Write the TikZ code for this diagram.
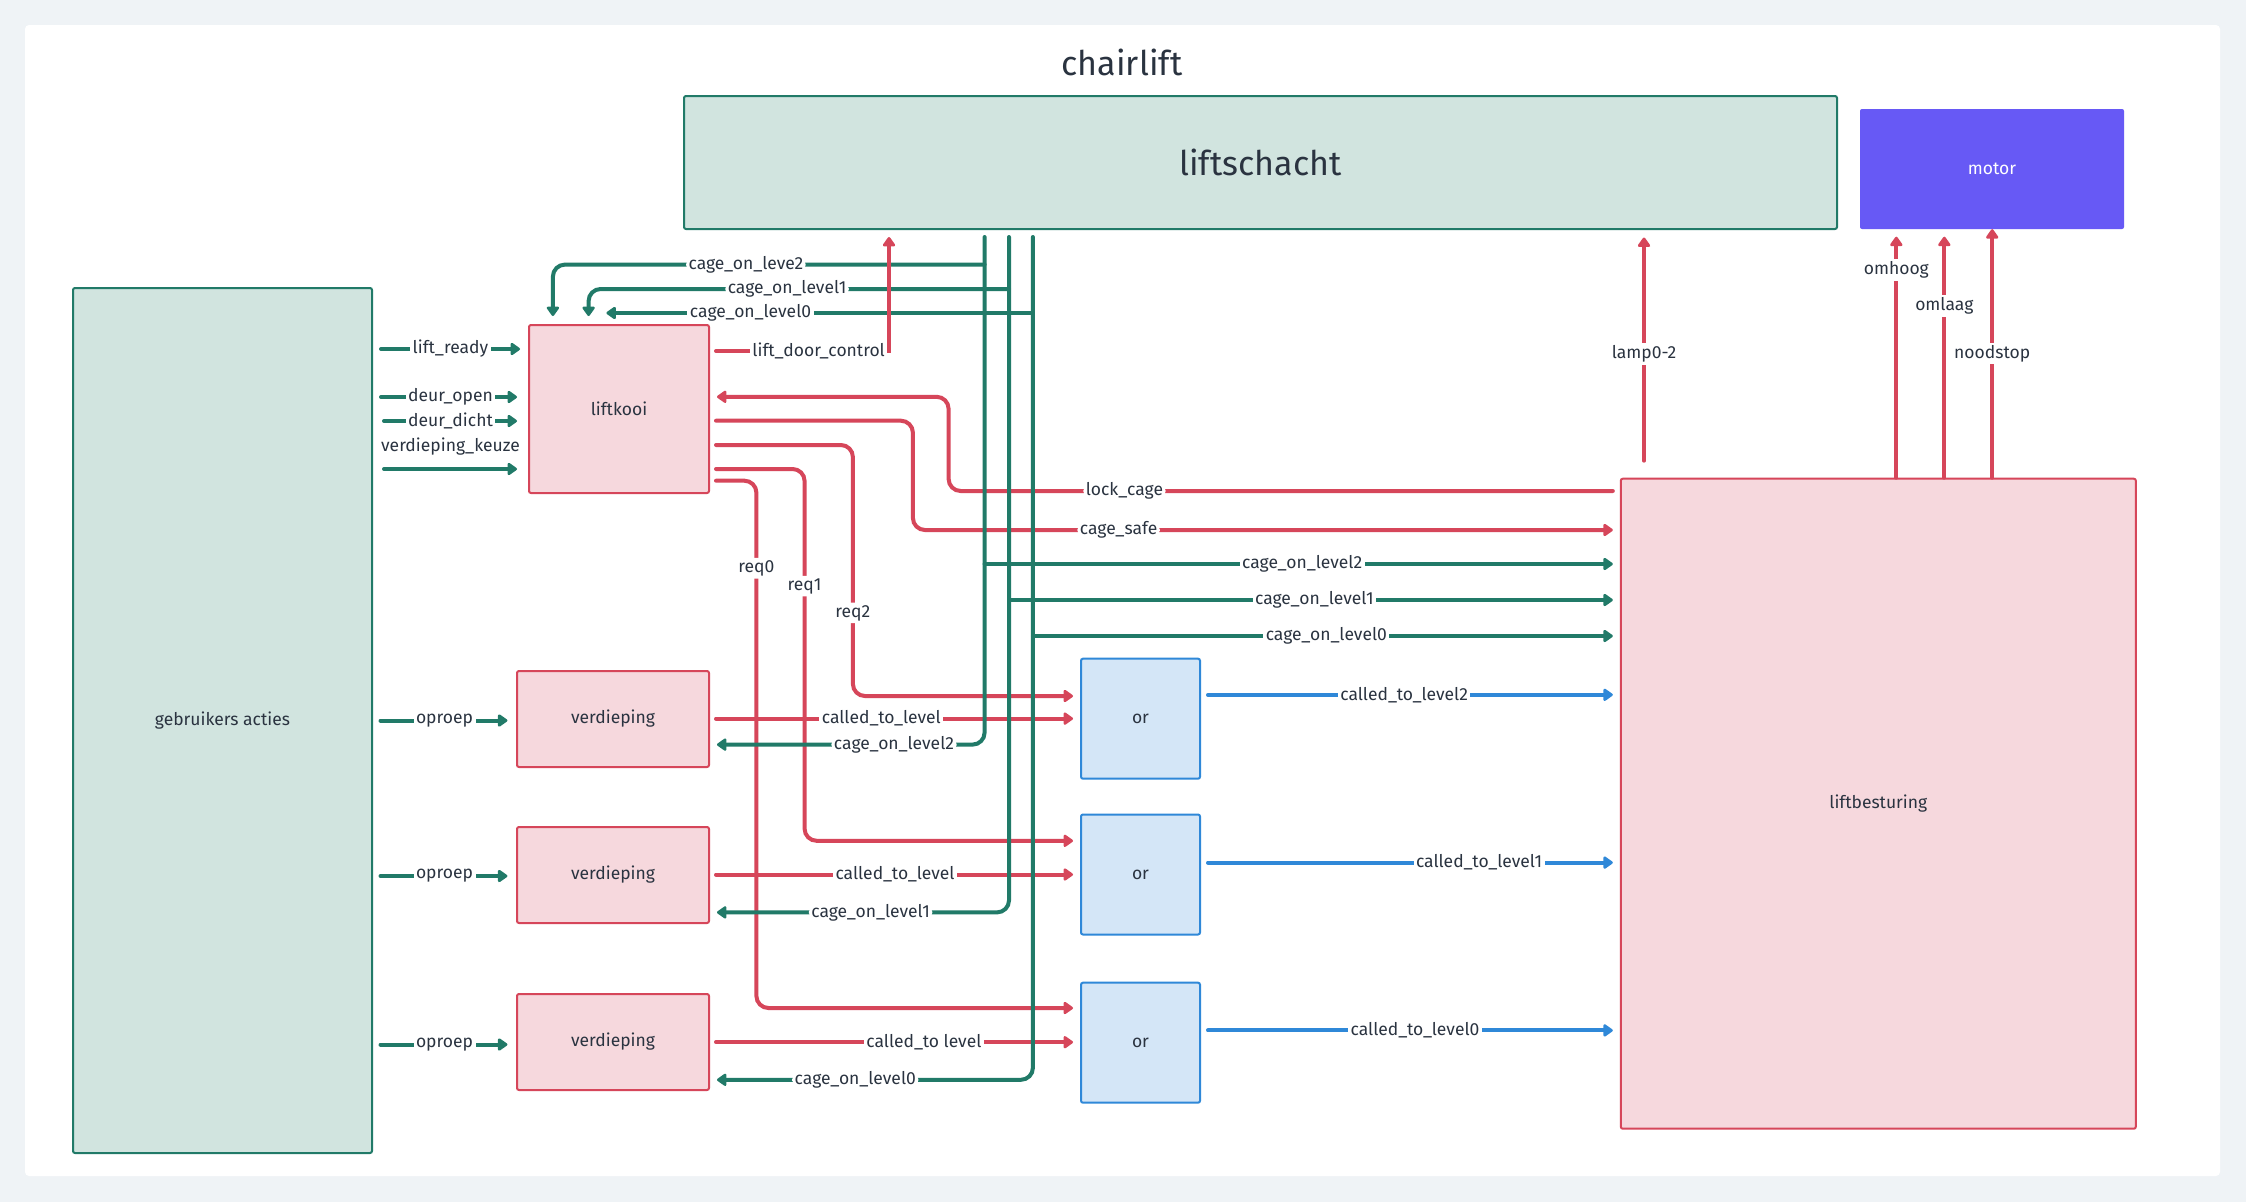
\documentclass[tikz,border=0pt]{standalone}
\usepackage{fontspec}
\setmainfont{Fira Sans}
\usepackage{xcolor}
\usetikzlibrary{arrows.meta, positioning, calc}
\definecolor{pagebg}{HTML}{EFF3F6}
\definecolor{gr}{HTML}{217A68}
\definecolor{rd}{HTML}{D6465A}
\definecolor{bl}{HTML}{2F88D8}
\definecolor{txt}{HTML}{2A3340}
\definecolor{grfill}{HTML}{D1E4DF}
\definecolor{rdfill}{HTML}{F6D8DD}
\definecolor{blfill}{HTML}{D4E6F7}
\definecolor{motorcol}{HTML}{6759F5}
\tikzstyle{shaft} = [rectangle, rounded corners=2pt, draw=gr, line width=2pt, fill=grfill, text=txt]
\tikzstyle{block} = [rectangle, rounded corners=2pt, draw=rd, line width=2pt, fill=rdfill, text=txt, font=\fontsize{17.5}{21}\selectfont]
\tikzstyle{gate} = [rectangle, rounded corners=2pt, draw=bl, line width=2pt, fill=blfill, text=txt, font=\fontsize{17.5}{21}\selectfont]
\tikzstyle{motorbox} = [rectangle, rounded corners=2pt, fill=motorcol, text=white, font=\fontsize{17.5}{21}\selectfont]
\tikzstyle{lbl} = [fill=white, inner sep=2.5pt, text=txt, font=\fontsize{17.5}{21}\selectfont]
\tikzstyle{wire} = [line width=4pt, line cap=round]
\tikzstyle{garrow} = [wire, draw=gr, -{Triangle[length=10.5pt,width=14pt,round]}]
\tikzstyle{rarrow} = [wire, draw=rd, -{Triangle[length=10.5pt,width=14pt,round]}]
\tikzstyle{barrow} = [wire, draw=bl, -{Triangle[length=10.5pt,width=14pt,round]}]

\begin{document}
\begin{tikzpicture}[x=1pt, y=-1pt]
    \useasboundingbox (0,0) rectangle (2246,1202);
    \fill[pagebg] (0,0) rectangle (2246,1202);
    \fill[white, rounded corners=4pt] (25,25) rectangle (2220,1176);

    \node (title) [text=txt, font=\fontsize{34}{40}\selectfont] at (1122,62) {chairlift};
    \node (schacht) [shaft, minimum width=1153pt, minimum height=133pt, font=\fontsize{34}{40}\selectfont] at (1260.5,162.5) {liftschacht};
    \node (motor) [motorbox, minimum width=264pt, minimum height=120pt] at (1992,169) {motor};
    \node (gebr) [shaft, minimum width=299pt, minimum height=865pt, font=\fontsize{17.5}{21}\selectfont] at (222.5,720.5) {gebruikers acties};
    \node (lk) [block, minimum width=180pt, minimum height=168pt] at (619,409) {liftkooi};
    \node (vd2) [block, minimum width=192pt, minimum height=96pt] at (613,719) {verdieping};
    \node (vd1) [block, minimum width=192pt, minimum height=96pt] at (613,875) {verdieping};
    \node (vd0) [block, minimum width=192pt, minimum height=96pt] at (613,1042) {verdieping};
    \node (or2) [gate, minimum width=119pt, minimum height=120pt] at (1140.5,718.7) {or};
    \node (or1) [gate, minimum width=119pt, minimum height=120pt] at (1140.5,874.5) {or};
    \node (or0) [gate, minimum width=119pt, minimum height=120pt] at (1140.5,1042.7) {or};
    \node (best) [block, minimum width=515pt, minimum height=650pt] at (1878.3,803.7) {liftbesturing};

    \coordinate (j2) at (984.6,264.6);
    \coordinate (j1) at (1009,289);
    \coordinate (j0) at (1032.9,313);
    \coordinate (j0end) at (606.4,313);

    % user inputs
    \draw [garrow, shorten <=8pt, shorten >=8pt] (gebr.east |- 0,349) -- node[lbl]{lift\_ready} (lk.west |- 0,349);
    \draw [garrow, shorten <=8pt, shorten >=11pt] (gebr.east |- 0,397) -- node[lbl]{deur\_open} (lk.west |- 0,397);
    \draw [garrow, shorten <=11pt, shorten >=11pt] (gebr.east |- 0,421) -- node[lbl]{deur\_dicht} (lk.west |- 0,421);
    \draw [garrow, shorten <=11pt, shorten >=11pt] (gebr.east |- 0,469) -- node[lbl, fill=none, yshift=22pt]{verdieping\_keuze} (lk.west |- 0,469);
    \draw [garrow, shorten <=7.5pt, shorten >=8.6pt] (gebr.east |- 0,720.5) -- node[lbl]{oproep} (vd2.west |- 0,720.5);
    \draw [garrow, shorten <=7.5pt, shorten >=8.6pt] (gebr.east |- 0,876) -- node[lbl]{oproep} (vd1.west |- 0,876);
    \draw [garrow, shorten <=7.5pt, shorten >=8.6pt] (gebr.east |- 0,1044.5) -- node[lbl]{oproep} (vd0.west |- 0,1044.5);

    \draw [garrow, rounded corners=12pt, shorten >=8pt] (j2) -- node[lbl, pos=0.553]{cage\_on\_leve2} (552.9,264.6) -- (lk.north -| 552.9,0);
    \draw [garrow, rounded corners=12pt, shorten >=8pt] (j1) -- node[lbl, pos=0.528]{cage\_on\_level1} (588.6,289) -- (lk.north -| 588.6,0);
    \draw [garrow] (j0) -- node[lbl, pos=0.662]{cage\_on\_level0} (j0end);

    % liftkooi outputs
    \draw [rarrow, shorten <=6pt, shorten >=7pt] (lk.east |- 0,351) -- node[lbl, pos=0.607]{lift\_door\_control} (889,351) -- (schacht.south -| 889,0);
    \draw [rarrow, rounded corners=12pt, shorten <=7pt, shorten >=7pt] (best.west |- 0,491) -- node[lbl, pos=0.738]{lock\_cage} (948.6,491) -- (948.6,396.8) -- (lk.east |- 0,396.8);
    \draw [rarrow, rounded corners=12pt, shorten <=6pt, shorten >=7pt] (lk.east |- 0,420.7) -- (912.9,420.7) -- (912.9,530) -- node[lbl, pos=0.291]{cage\_safe} (best.west |- 0,530);
    \draw [rarrow, rounded corners=12pt, shorten <=6pt, shorten >=7pt] (lk.east |- 0,445) -- (852.9,445) -- node[lbl, pos=0.669]{req2} (852.9,696) -- (or2.west |- 0,696);
    \draw [rarrow, rounded corners=12pt, shorten <=6pt, shorten >=7pt] (lk.east |- 0,469) -- (804.6,469) -- node[lbl, pos=0.315]{req1} (804.6,840.8) -- (or1.west |- 0,840.8);
    \draw [rarrow, rounded corners=12pt, shorten <=6pt, shorten >=7pt] (lk.east |- 0,480.7) -- (756.4,480.7) -- node[lbl, pos=0.166]{req0} (756.4,1008) -- (or0.west |- 0,1008);

    \draw [rarrow, shorten <=6pt, shorten >=7pt] (vd2.east |- 0,718.6) -- node[lbl, pos=0.463]{called\_to\_level} (or2.west |- 0,718.6);
    \draw [rarrow, shorten <=6pt, shorten >=7pt] (vd1.east |- 0,874.5) -- node[lbl, pos=0.5]{called\_to\_level} (or1.west |- 0,874.5);
    \draw [rarrow, shorten <=6pt, shorten >=7pt] (vd0.east |- 0,1042.2) -- node[lbl, pos=0.578]{called\_to level} (or0.west |- 0,1042.2);

    % liftbesturing outputs
    \draw [rarrow, shorten <=17pt, shorten >=7.5pt] (best.north -| 1644,0) -- node[lbl]{lamp0-2} (schacht.south -| 1644,0);
    \draw [rarrow, shorten >=7.5pt] (best.north -| 1896.3,0) -- node[lbl, pos=0.835]{omhoog} (motor.south -| 1896.3,0);
    \draw [rarrow, shorten >=7.5pt] (best.north -| 1944.3,0) -- node[lbl, pos=0.691]{omlaag} (motor.south -| 1944.3,0);
    \draw [rarrow] (best.north -| 1992.2,0) -- node[lbl, pos=0.5]{noodstop} (motor.south -| 1992.2,0);

    \draw [barrow, shorten <=7pt, shorten >=7pt] (or2.east |- 0,694.8) -- node[lbl, pos=0.485]{called\_to\_level2} (best.west |- 0,694.8);
    \draw [barrow, shorten <=7pt, shorten >=7pt] (or1.east |- 0,862.6) -- node[lbl, pos=0.664]{called\_to\_level1} (best.west |- 0,862.6);
    \draw [barrow, shorten <=7pt, shorten >=7pt] (or0.east |- 0,1030.4) -- node[lbl, pos=0.511]{called\_to\_level0} (best.west |- 0,1030.4);

    % cage position bus
    \draw [garrow, rounded corners=12pt, shorten <=7pt, shorten >=7pt] (schacht.south -| 984.6,0) -- (984.6,744.6) -- node[lbl, pos=0.33]{cage\_on\_level2} (vd2.east |- 0,744.6);
    \draw [garrow, rounded corners=12pt, shorten <=7pt, shorten >=7pt] (schacht.south -| 1009,0) -- (1009,912.4) -- node[lbl, pos=0.463]{cage\_on\_level1} (vd1.east |- 0,912.4);
    \draw [garrow, rounded corners=12pt, shorten <=7pt, shorten >=7pt] (schacht.south -| 1032.9,0) -- (1032.9,1079.8) -- node[lbl, pos=0.55]{cage\_on\_level0} (vd0.east |- 0,1079.8);
    \draw [garrow, shorten >=7pt] (984.6,564) -- node[lbl]{cage\_on\_level2} (best.west |- 0,564);
    \draw [garrow, shorten >=7pt] (1009,600) -- node[lbl]{cage\_on\_level1} (best.west |- 0,600);
    \draw [garrow, shorten >=7pt] (1032.9,636) -- node[lbl]{cage\_on\_level0} (best.west |- 0,636);
\end{tikzpicture}
\end{document}
